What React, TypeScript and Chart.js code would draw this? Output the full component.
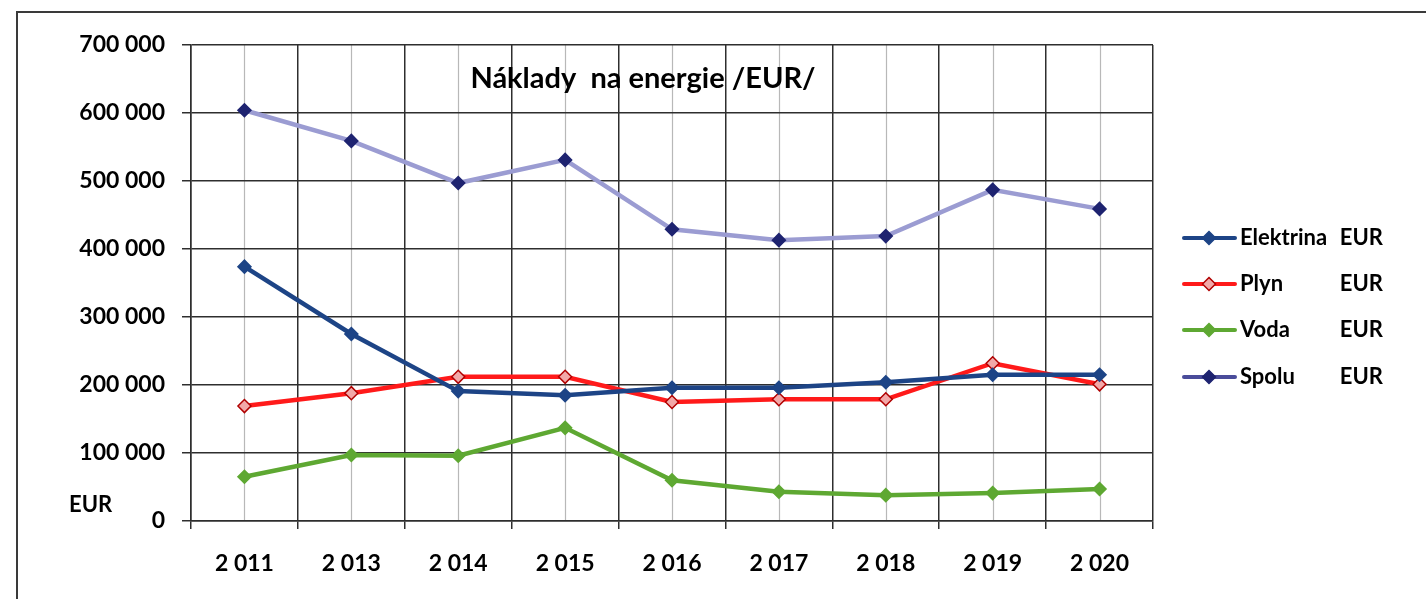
import React, { useEffect, useRef } from 'react';
import { Chart, registerables } from 'chart.js';

Chart.register(...registerables);

const categories = ['2 011', '2 013', '2 014', '2 015', '2 016', '2 017', '2 018', '2 019', '2 020'];
const elektrina = [374000, 275000, 191000, 185000, 196000, 196000, 204000, 215000, 215000];
const plyn = [169000, 188000, 212000, 212000, 175000, 179000, 179000, 232000, 201000];
const voda = [65000, 97000, 96000, 137000, 60000, 43000, 38000, 41000, 47000];
const spolu = [604000, 559000, 497000, 531000, 429000, 413000, 419000, 487000, 459000];
const yMin = 0;
const yMax = 700000;
const yStep = 100000;
const titleText = 'Náklady  na energie /EUR/';
const seriesNames = ['Elektrina', 'Plyn', 'Voda', 'Spolu'];
const unitText = 'EUR';

const FONT = 'Lato, "Open Sans", sans-serif';

const lineColors = ['#1d4486', '#ff1a1a', '#5ea832', '#9b9cd2'];
const pointFill = ['#1d4486', '#f2a8a8', '#5ea832', '#1e2370'];
const pointBorder = ['#1d4486', '#b00000', '#5ea832', '#1e2370'];
const legendLineColors = ['#1d4486', '#ff1a1a', '#5ea832', '#4a4c9a'];

function fmt(v: number) {
  return String(v).replace(/\B(?=(\d{3})+(?!\d))/g, ' ');
}

function diamond(ctx: CanvasRenderingContext2D, x: number, y: number, r: number, fill: string, stroke: string) {
  ctx.beginPath();
  ctx.moveTo(x, y - r);
  ctx.lineTo(x + r, y);
  ctx.lineTo(x, y + r);
  ctx.lineTo(x - r, y);
  ctx.closePath();
  ctx.fillStyle = fill;
  ctx.fill();
  ctx.lineWidth = 1.5;
  ctx.strokeStyle = stroke;
  ctx.stroke();
}

const decorPlugin = {
  id: 'decor',
  beforeDraw(chart: any) {
    const { ctx, chartArea, scales } = chart;
    ctx.save();
    ctx.fillStyle = '#ffffff';
    ctx.fillRect(0, 0, chart.width, chart.height);
    ctx.strokeStyle = '#b8b8b8';
    ctx.lineWidth = 1.2;
    for (let i = 0; i < categories.length; i++) {
      const x = Math.round(scales.x.getPixelForValue(i)) + 0.5;
      ctx.beginPath();
      ctx.moveTo(x, chartArea.top);
      ctx.lineTo(x, chartArea.bottom);
      ctx.stroke();
    }
    ctx.strokeStyle = '#3a3a3a';
    ctx.lineWidth = 2;
    ctx.beginPath();
    ctx.moveTo(17, chart.height);
    ctx.lineTo(17, 12);
    ctx.lineTo(chart.width, 12);
    ctx.stroke();
    ctx.restore();
  },
  afterDraw(chart: any) {
    const { ctx } = chart;
    ctx.save();
    ctx.fillStyle = '#000';
    ctx.font = `bold 29px ${FONT}`;
    ctx.textAlign = 'center';
    ctx.textBaseline = 'middle';
    ctx.fillText(titleText, 643, 79);
    ctx.font = `bold 22px ${FONT}`;
    ctx.textAlign = 'left';
    ctx.fillText(unitText, 69, 505);
    const ys = [238, 284, 330, 377];
    for (let i = 0; i < seriesNames.length; i++) {
      const y = ys[i];
      ctx.strokeStyle = legendLineColors[i];
      ctx.lineWidth = 4;
      ctx.lineCap = 'round';
      ctx.beginPath();
      ctx.moveTo(1184, y);
      ctx.lineTo(1235, y);
      ctx.stroke();
      diamond(ctx, 1209, y, 6.5, pointFill[i], pointBorder[i]);
      ctx.fillStyle = '#000';
      ctx.font = `bold 22px ${FONT}`;
      ctx.textAlign = 'left';
      ctx.textBaseline = 'middle';
      ctx.fillText(seriesNames[i], 1240, y);
      ctx.textAlign = 'right';
      ctx.fillText(unitText, 1383, y);
    }
    ctx.restore();
  },
};

export default function App() {
  const ref = useRef<HTMLCanvasElement | null>(null);

  useEffect(() => {
    document.body.style.margin = '0';
    const canvas = ref.current;
    if (!canvas) return;
    const series = [elektrina, plyn, voda, spolu];
    const chart = new Chart(canvas, {
      type: 'line',
      data: {
        labels: categories,
        datasets: series.map((d, i) => ({
          label: seriesNames[i],
          data: d,
          borderColor: lineColors[i],
          backgroundColor: lineColors[i],
          borderWidth: 4.5,
          tension: 0,
          pointStyle: 'rectRot',
          pointRadius: 6.5,
          pointHoverRadius: 6.5,
          pointBackgroundColor: pointFill[i],
          pointBorderColor: pointBorder[i],
          pointBorderWidth: 1.5,
          fill: false,
        })),
      },
      options: {
        animation: false,
        responsive: false,
        maintainAspectRatio: false,
        layout: { padding: { left: 0, right: 273, top: 45, bottom: 0 } },
        plugins: {
          legend: { display: false },
          title: { display: false },
          tooltip: { enabled: false },
        },
        scales: {
          x: {
            type: 'category',
            offset: true,
            afterFit: (s: any) => {
              s.height = 78;
            },
            grid: {
              offset: true,
              color: '#2e2e2e',
              lineWidth: 1.5,
              drawTicks: true,
              tickLength: 8,
              tickColor: '#2e2e2e',
            },
            border: { display: true, color: '#2e2e2e', width: 1.5 },
            ticks: {
              color: '#000',
              font: { family: FONT, size: 23, weight: 'bold' },
              padding: 21,
              maxRotation: 0,
            },
          },
          y: {
            min: yMin,
            max: yMax,
            afterFit: (s: any) => {
              s.width = 191;
            },
            grid: {
              color: '#2e2e2e',
              lineWidth: 1.5,
              drawTicks: true,
              tickLength: 9,
              tickColor: '#2e2e2e',
            },
            border: { display: true, color: '#2e2e2e', width: 1.5 },
            ticks: {
              stepSize: yStep,
              color: '#000',
              font: { family: FONT, size: 23, weight: 'bold' },
              padding: 17,
              callback: (v: any) => fmt(Number(v)),
            },
          },
        },
      },
      plugins: [decorPlugin],
    } as any);
    return () => chart.destroy();
  }, []);

  return (
    <div style={{ position: 'absolute', left: 0, top: 0, width: 1426, height: 599 }}>
      <canvas ref={ref} width={1426} height={599} style={{ width: 1426, height: 599, display: 'block' }} />
    </div>
  );
}
